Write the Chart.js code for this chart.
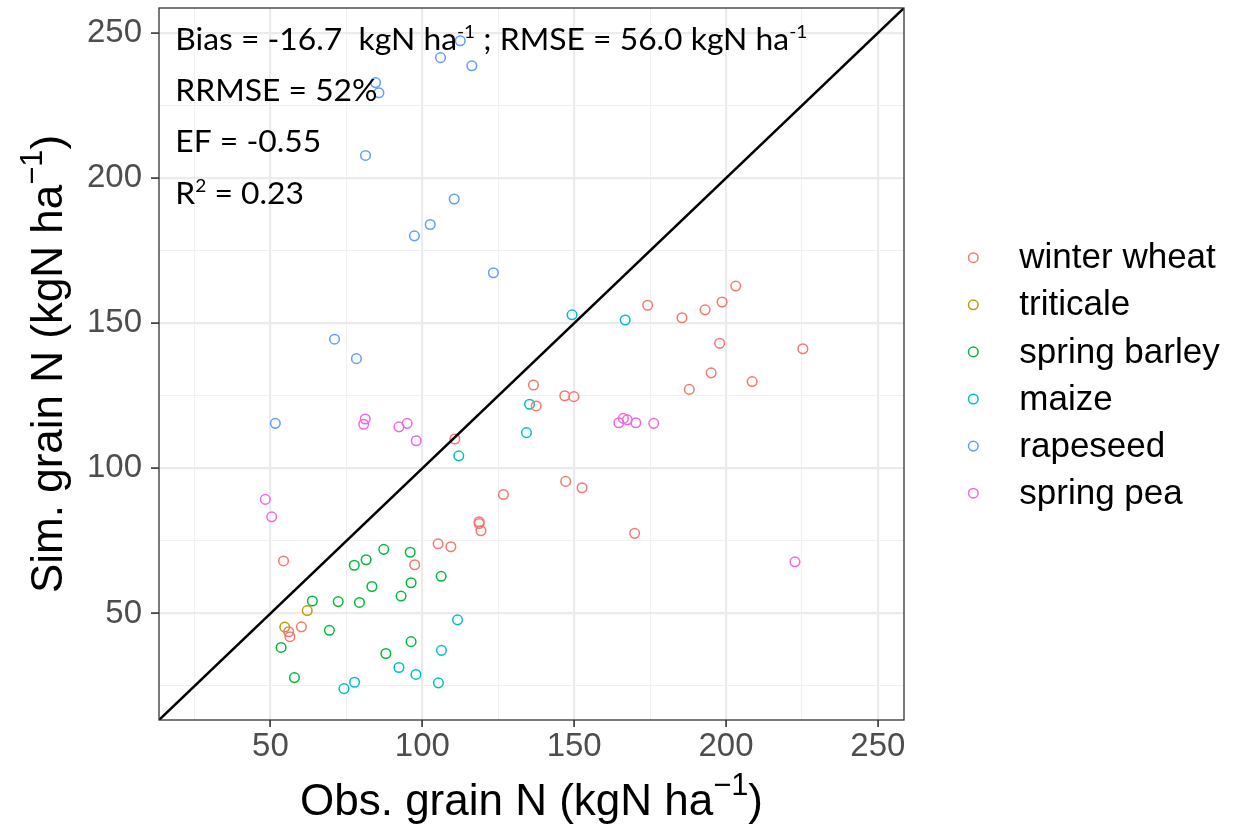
<!DOCTYPE html>
<html>
<head>
<meta charset="utf-8">
<script src="https://cdn.jsdelivr.net/npm/chart.js@4.4.1/dist/chart.umd.min.js"></script>
<style>
  html, body { margin: 0; padding: 0; background: #fff; }
  canvas { display: block; }
</style>
</head>
<body>
<canvas id="myChart" width="1246" height="828"></canvas>
<script>
// cultures (legende)
const species = ['winter wheat', 'triticale', 'spring barley', 'maize', 'rapeseed', 'spring pea']
const colors = ['#F8766D', '#B79F00', '#00BA38', '#00BFC4', '#619CFF', '#F564E3']

// observed (x) / simulated (y) grain N, kgN/ha
const wheatObs = [110.7, 136.6, 137.5, 126.7, 174.2, 185.5, 193.1, 198.7, 203.2, 197.9, 225.3, 195.1, 208.6, 187.9, 146.9, 149.9, 147.2, 152.6, 118.7, 118.7, 119.3, 169.9, 54.3, 105.2, 109.4, 97.5, 56.0, 56.4, 60.2]
const wheatSim = [110.1, 128.7, 121.5, 91.0, 156.2, 151.9, 154.6, 157.3, 162.8, 143.1, 141.2, 132.9, 129.9, 127.2, 125.0, 124.7, 95.5, 93.3, 81.6, 81.0, 78.5, 77.6, 68.1, 74.0, 73.0, 66.8, 43.7, 42.0, 45.4]

const triticaleObs = [62.1, 54.7]
const triticaleSim = [51.0, 45.3]

const barleyObs = [87.3, 96.0, 77.6, 81.5, 106.2, 83.4, 96.3, 93.0, 63.8, 72.3, 79.3, 69.4, 53.5, 96.3, 88.0, 57.9]
const barleySim = [72.1, 71.1, 66.6, 68.5, 62.8, 59.3, 60.6, 56.0, 54.3, 54.1, 53.8, 44.2, 38.3, 40.3, 36.2, 27.9]

const maizeObs = [149.3, 166.8, 112.0, 135.3, 134.3, 111.6, 106.3, 92.3, 97.9, 105.3, 77.7, 74.2]
const maizeSim = [152.9, 151.1, 104.3, 122.1, 112.3, 47.8, 37.3, 31.4, 29.0, 26.1, 26.3, 24.1]

const rapeObs = [112.5, 106.0, 116.3, 84.6, 85.7, 81.3, 110.5, 102.6, 97.4, 123.4, 71.1, 78.3, 51.6]
const rapeSim = [247.3, 241.5, 238.7, 232.9, 229.4, 207.8, 192.8, 184.0, 180.1, 167.4, 144.5, 137.8, 115.5]

const peaObs = [81.2, 80.7, 92.3, 95.0, 98.0, 48.3, 50.4, 164.7, 166.2, 167.5, 170.3, 176.2, 222.7]
const peaSim = [117.0, 115.2, 114.3, 115.5, 109.5, 89.3, 83.3, 115.7, 117.2, 116.7, 115.7, 115.5, 67.8]

// axes
const axisMin = 13.3
const axisMax = 258.6
const majorTicks = [50, 100, 150, 200, 250]
const minorTicks = [25, 75, 125, 175, 225]

// stats
const statLines = [
    [['Bias = -16.7  kgN ha', false], ['-1', true], [' ; RMSE = 56.0 kgN ha', false], ['-1', true]],
    [['RRMSE = 52%', false]],
    [['EF = -0.55', false]],
    [['R', false], ['2', true], [' = 0.23', false]],
]
const xTitle = [['Obs. grain N (kgN ha', false], ['\u22121', true], [')', false]]
const yTitle = [['Sim. grain N (kgN ha', false], ['\u22121', true], [')', false]]

const obsList = [wheatObs, triticaleObs, barleyObs, maizeObs, rapeObs, peaObs]
const simList = [wheatSim, triticaleSim, barleySim, maizeSim, rapeSim, peaSim]

const isMajor = (v) => majorTicks.includes(v)

// ve chu co chi so tren
const richWidth = (ctx, parts, size, family, supScale) => {
    let w = 0
    parts.forEach(([t, sup]) => {
        ctx.font = `${sup ? size * supScale : size}px ${family}`
        w += ctx.measureText(t).width
    })
    return w
}

const drawRich = (ctx, parts, x, y, size, family, opt) => {
    const supScale = opt.supScale || 0.65
    const rise = opt.rise || 0.4
    const sx = opt.sx || 1
    const w = richWidth(ctx, parts, size, family, supScale)
    ctx.save()
    ctx.translate(x, y)
    if (opt.rotate) ctx.rotate(opt.rotate)
    ctx.scale(sx, 1)
    ctx.textAlign = 'left'
    ctx.textBaseline = 'alphabetic'
    ctx.fillStyle = opt.color || '#000'
    let cx = opt.align === 'center' ? -w / 2 : 0
    parts.forEach(([t, sup]) => {
        ctx.font = `${sup ? size * supScale : size}px ${family}`
        ctx.fillText(t, cx, sup ? -size * rise : 0)
        cx += ctx.measureText(t).width
    })
    ctx.restore()
}

const decorPlugin = {
    id: 'decor',
    afterDraw(chart) {
        const ctx = chart.ctx
        const a = chart.chartArea
        ctx.save()

        // cadre du panneau
        ctx.strokeStyle = '#333333'
        ctx.lineWidth = 1.3
        ctx.strokeRect(a.left, a.top, a.right - a.left, a.bottom - a.top)

        // statistiques
        const annFont = 'Lato'
        const annSize = 30
        const natural = richWidth(ctx, statLines[0], annSize, annFont, 0.6)
        const sx = 632 / natural
        const baselines = [49.8, 101, 152.2, 203.7]
        statLines.forEach((line, i) => {
            drawRich(ctx, line, 175.3, baselines[i], annSize, annFont, { supScale: 0.6, rise: 0.38, sx: sx })
        })

        // titres des axes
        const titleFont = '"Liberation Sans", Arial, sans-serif'
        drawRich(ctx, xTitle, (a.left + a.right) / 2, 815, 44, titleFont, { align: 'center', supScale: 0.7, rise: 0.45 })
        drawRich(ctx, yTitle, 62, (a.top + a.bottom) / 2, 44, titleFont, { align: 'center', supScale: 0.7, rise: 0.45, rotate: -Math.PI / 2 })

        // legende
        species.forEach((name, i) => {
            const y = 257.7 + i * 47.1
            ctx.beginPath()
            ctx.arc(973.3, y, 4.8, 0, 2 * Math.PI)
            ctx.strokeStyle = colors[i]
            ctx.lineWidth = 1.5
            ctx.stroke()
            ctx.fillStyle = '#000'
            ctx.font = '35px "Liberation Sans", Arial, sans-serif'
            ctx.textAlign = 'left'
            ctx.textBaseline = 'alphabetic'
            ctx.fillText(name, 1019.3, y + 10.6)
        })
        ctx.restore()
    }
}

const axisFor = (afterFit) => ({
    type: 'linear',
    min: axisMin,
    max: axisMax,
    afterBuildTicks: (scale) => {
        scale.ticks = minorTicks.concat(majorTicks).sort((p, q) => p - q).map(v => ({ value: v }))
    },
    afterFit: (scale) => {
        afterFit(scale)
        // pas de marge pour les etiquettes aux bords
        scale.paddingTop = 0
        scale.paddingBottom = 0
        scale.paddingLeft = 0
        scale.paddingRight = 0
    },
    border: { display: false },
    grid: {
        color: (c) => (c.tick && isMajor(c.tick.value)) ? '#EBEBEB' : '#F0F0F0',
        lineWidth: (c) => (c.tick && isMajor(c.tick.value)) ? 2.2 : 1.1,
        tickLength: 8,
        tickColor: (c) => (c.tick && isMajor(c.tick.value)) ? '#333333' : 'rgba(0,0,0,0)',
        tickWidth: 1.6,
    },
    ticks: {
        autoSkip: false,
        maxRotation: 0,
        color: '#4D4D4D',
        font: { family: '"Liberation Sans", Arial, sans-serif', size: 33 },
        callback: (v) => isMajor(v) ? String(v) : '',
    },
})

const showChart = () => {
    const datasets = species.map((name, i) => ({
        label: name,
        data: obsList[i].map((x, j) => ({ x: x, y: simList[i][j] })),
        borderColor: colors[i],
        backgroundColor: 'rgba(0,0,0,0)',
        pointRadius: 4.8,
        pointBorderWidth: 1.5,
        order: 1,
    }))

    // droite 1:1
    datasets.push({
        type: 'line',
        label: '1:1',
        data: [{ x: axisMin, y: axisMin }, { x: axisMax, y: axisMax }],
        borderColor: '#000000',
        borderWidth: 2.5,
        pointRadius: 0,
        fill: false,
        order: 0,
    })

    const xAxis = axisFor((scale) => { scale.height = 108 })
    xAxis.grid.tickLength = 7
    xAxis.ticks.padding = 0
    const yAxis = axisFor((scale) => { scale.width = 159 })
    yAxis.ticks.padding = 9

    const ctx = document.getElementById('myChart').getContext('2d')
    new Chart(ctx, {
        type: 'scatter',
        data: { datasets: datasets },
        options: {
            responsive: false,
            devicePixelRatio: 1,
            animation: false,
            events: [],
            layout: { padding: { top: 8, right: 342, bottom: 0, left: 0 } },
            plugins: {
                legend: { display: false },
                tooltip: { enabled: false },
                title: { display: false },
            },
            scales: { x: xAxis, y: yAxis },
        },
        plugins: [decorPlugin],
    })
}

window.onload = function () {
    showChart()
}
</script>
</body>
</html>
